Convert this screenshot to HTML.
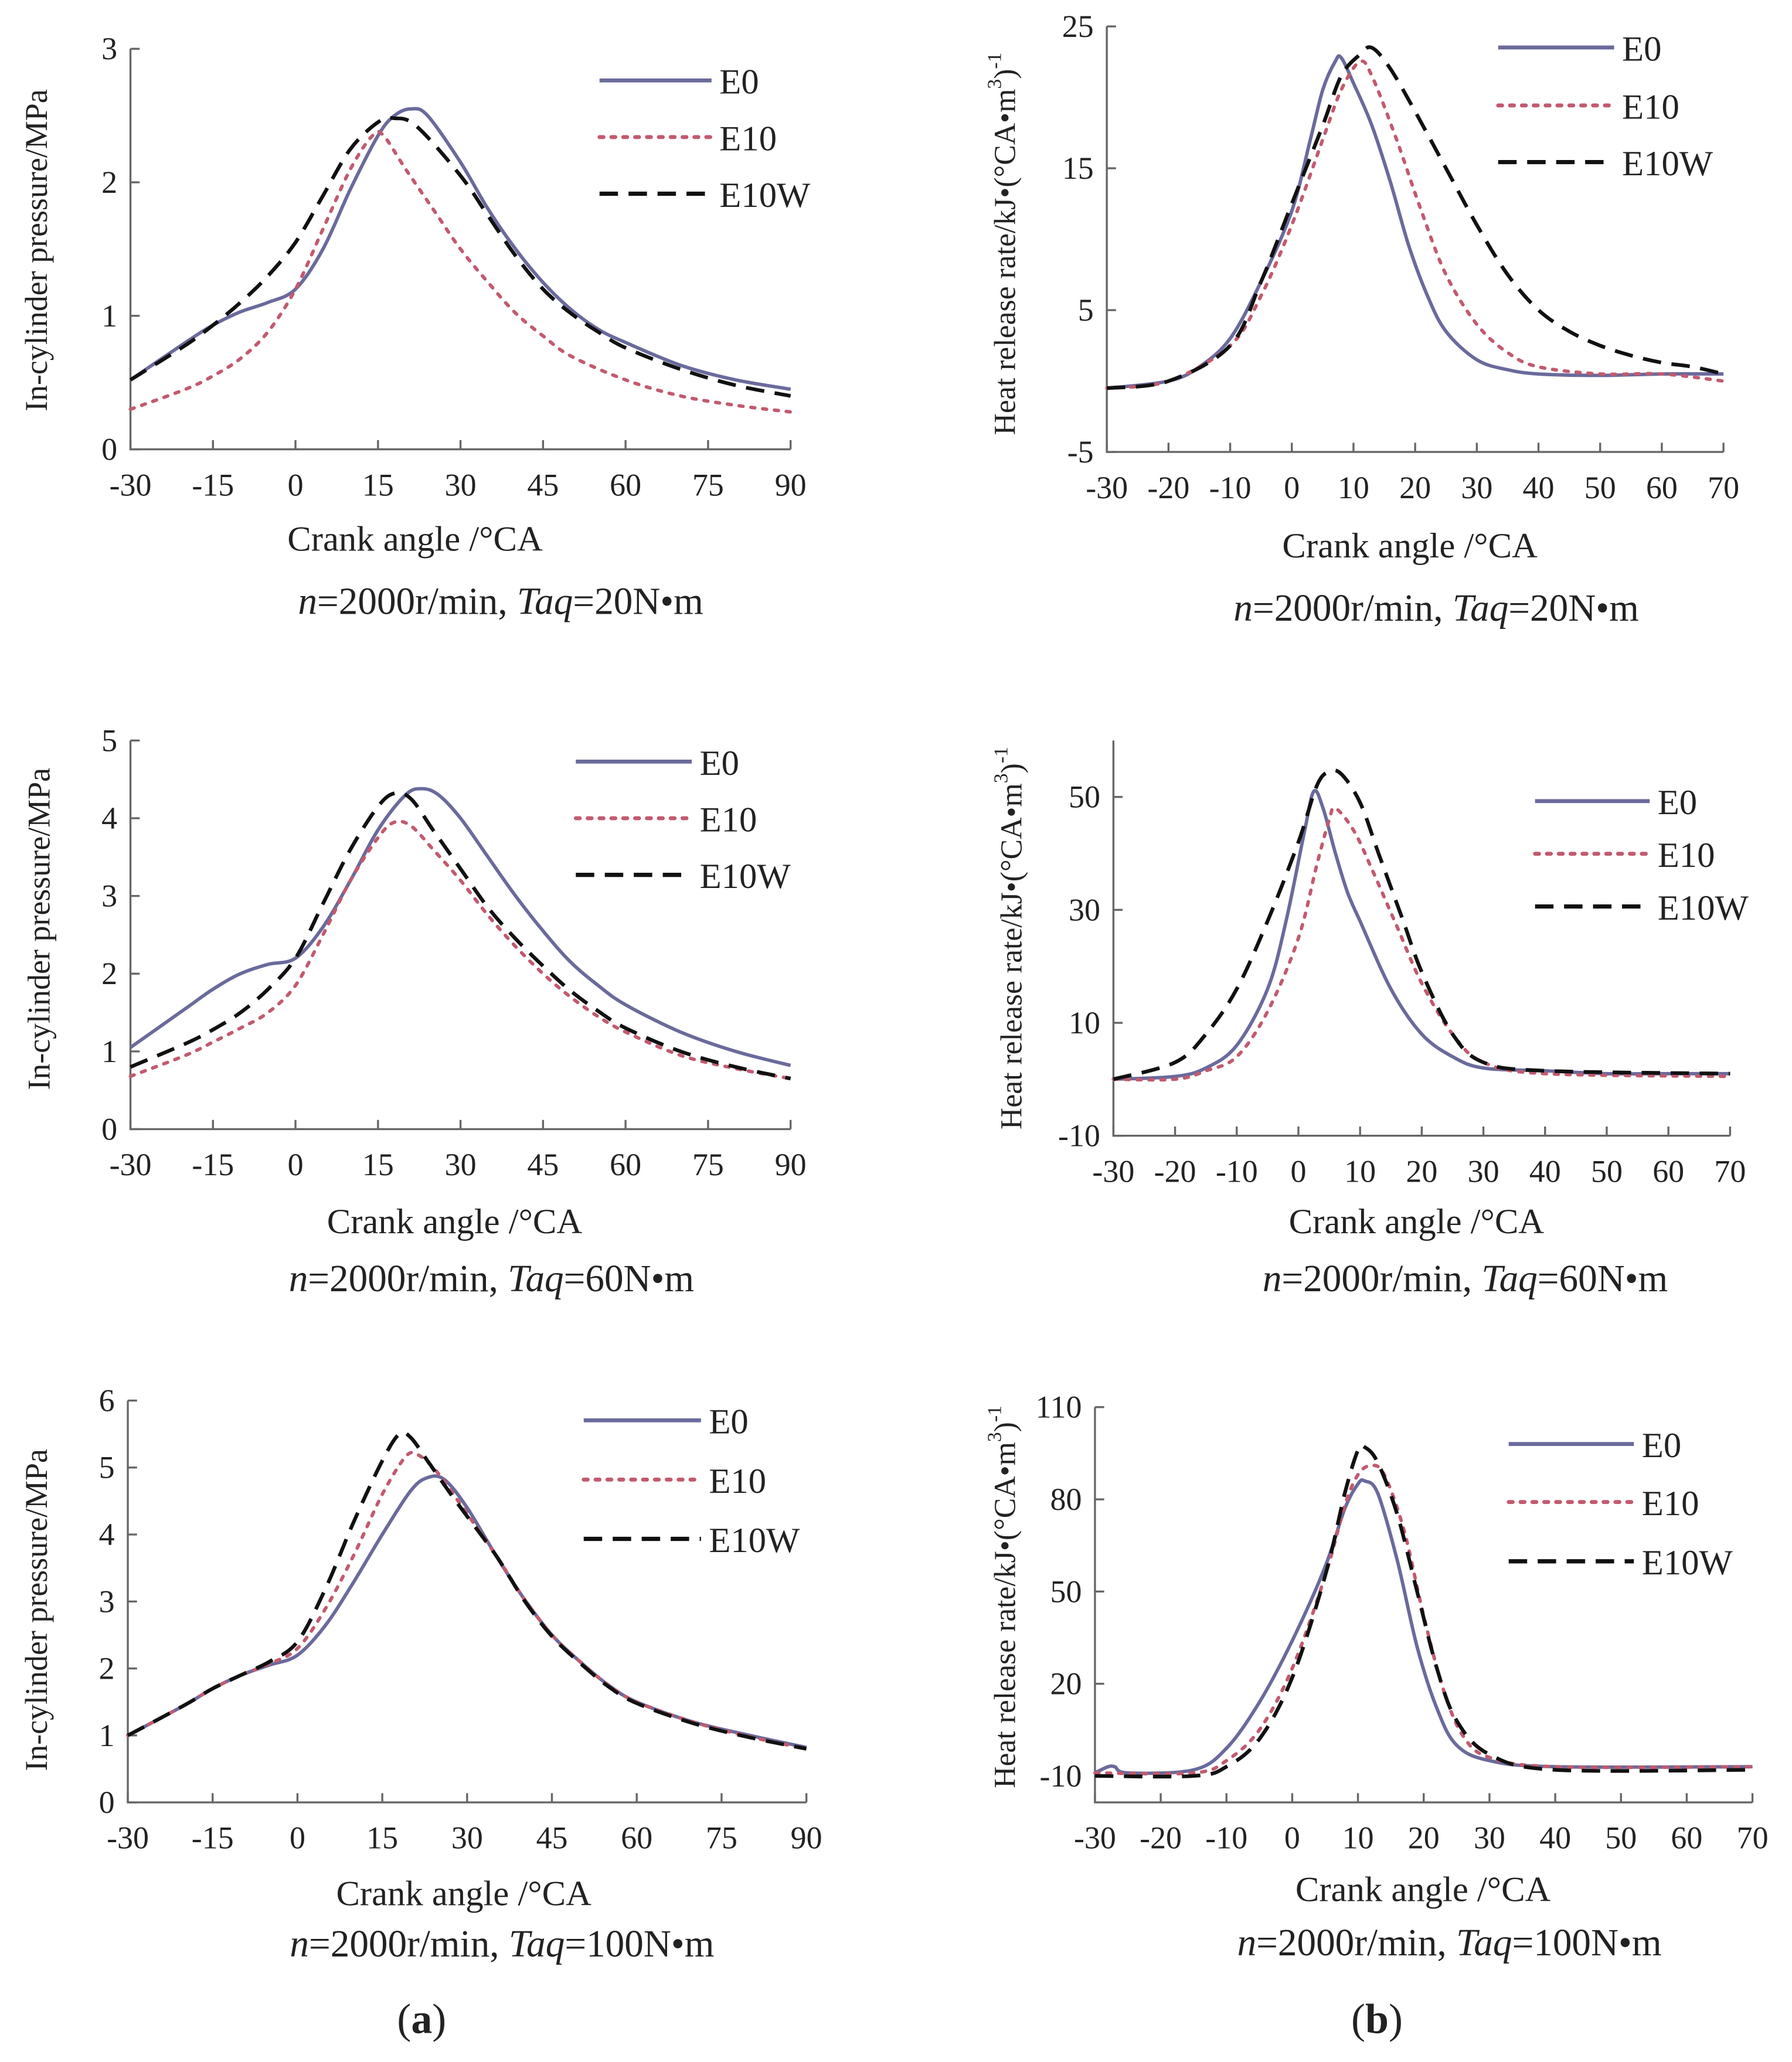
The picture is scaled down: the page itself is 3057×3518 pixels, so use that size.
<!DOCTYPE html>
<html><head><meta charset="utf-8"><style>
html,body{margin:0;padding:0;background:#fff}
svg{display:block}
text{font-family:"Liberation Serif",serif;fill:#222}
</style></head><body>
<svg id="fig" width="3057" height="3518" viewBox="0 0 1360 1565" xmlns="http://www.w3.org/2000/svg">
<rect width="1360" height="1565" fill="#fff"/>
<text x="320" y="1543" font-size="32" text-anchor="middle">(<tspan font-weight="bold">a</tspan>)</text>
<text x="1045" y="1543" font-size="32" text-anchor="middle">(<tspan font-weight="bold">b</tspan>)</text>
</svg>
<script>
// ---------- data ----------
const seriesNames = ["E0","E10","E10W"];
// A1 pressure 20 N·m
const a1E0x=[-30,-20,-15,-10,-5,0,5,10,15,18,21,24,30,35,40,45,50,55,60,70,80,90];
const a1E0y=[0.52,0.8,0.93,1.03,1.1,1.2,1.5,1.95,2.35,2.5,2.55,2.5,2.15,1.8,1.5,1.25,1.05,0.9,0.8,0.63,0.52,0.45];
const a1E10x=[-30,-20,-15,-10,-5,0,5,10,14,16,20,25,30,35,40,45,50,60,70,80,90];
const a1E10y=[0.3,0.45,0.55,0.68,0.88,1.2,1.65,2.1,2.35,2.35,2.1,1.8,1.5,1.25,1.02,0.85,0.7,0.52,0.4,0.33,0.28];
const a1E10Wx=[-30,-20,-15,-10,-5,0,5,10,15,18,22,30,35,40,45,50,55,60,70,80,90];
const a1E10Wy=[0.52,0.78,0.93,1.1,1.3,1.55,1.9,2.25,2.45,2.48,2.42,2.05,1.75,1.45,1.2,1.02,0.88,0.76,0.6,0.48,0.4];
// B1 heat release 20 N·m
const b1E0x=[-30,-20,-15,-10,-5,0,3,5,7,8,10,13,16,19,22,25,30,35,40,50,60,70];
const b1E0y=[-0.5,0,1,3,7,12,17,20.5,22.5,22.8,21,18,14,9.5,6,3.5,1.5,0.8,0.5,0.4,0.5,0.5];
const b1E10x=[-30,-20,-10,-5,0,5,8,11,13,17,21,25,30,35,40,50,60,70];
const b1E10y=[-0.5,0,2.5,6,11,17,20.5,22.5,21.5,17,12,7.5,4,2,1,0.5,0.5,0];
const b1E10Wx=[-30,-20,-10,-5,0,5,8,11,13,16,20,25,30,35,40,45,50,55,60,65,70];
const b1E10Wy=[-0.5,0,2.5,7,12.5,18,21.5,23,23.5,22,19,15,11,7.5,5,3.5,2.5,1.8,1.3,1,0.5];
// A2 pressure 60 N·m
const a2E0x=[-30,-20,-15,-10,-5,0,5,10,15,20,23,26,30,35,40,45,50,55,60,70,80,90];
const a2E0y=[1.05,1.55,1.8,2.0,2.12,2.2,2.6,3.2,3.85,4.3,4.38,4.3,4.0,3.5,3.0,2.55,2.15,1.85,1.6,1.25,1.0,0.82];
const a2E10x=[-30,-20,-15,-10,-5,0,5,10,15,18,21,25,30,35,40,45,50,55,60,70,80,90];
const a2E10y=[0.68,0.95,1.12,1.3,1.5,1.85,2.5,3.2,3.75,3.95,3.9,3.6,3.2,2.75,2.35,2.0,1.7,1.45,1.25,0.95,0.78,0.65];
const a2E10Wx=[-30,-20,-15,-10,-5,0,5,10,15,18,21,25,30,35,40,45,50,55,60,70,80,90];
const a2E10Wy=[0.8,1.1,1.28,1.5,1.8,2.2,2.9,3.6,4.15,4.32,4.25,3.85,3.35,2.85,2.45,2.1,1.78,1.52,1.3,1.0,0.8,0.65];
// B2 heat release 60 N·m
const b2E0x=[-30,-20,-15,-10,-5,-2,1,2.5,4,6,8,10,15,20,25,30,40,50,60,70];
const b2E0y=[0,0.5,2,6,16,28,44,51,48,40,33,28,16,8,4,2,1.5,1,1,1];
const b2E10x=[-30,-20,-15,-10,-5,0,3,5,6,9,12,16,20,25,30,40,70];
const b2E10y=[0,0,1.5,4,12,25,38,46,48,44,37,27,17,8,3,1,0.5];
const b2E10Wx=[-30,-20,-15,-10,-5,0,3,5,7,10,13,17,20,25,30,40,70];
const b2E10Wy=[0,3,8,16,28,42,52,54.5,54,49,40,28,19,8,3,1.5,1];
// A3 pressure 100 N·m
const a3E0x=[-30,-20,-15,-10,-5,0,5,10,15,20,23,26,30,35,40,45,50,55,60,70,80,90];
const a3E0y=[1,1.45,1.7,1.9,2.05,2.2,2.65,3.3,4.0,4.65,4.85,4.82,4.4,3.7,3.05,2.5,2.1,1.75,1.5,1.2,1.0,0.82];
const a3E10x=[-30,-20,-15,-10,-5,0,5,10,15,19,21,24,28,35,40,45,50,55,60,70,80,90];
const a3E10y=[1,1.45,1.7,1.9,2.07,2.3,2.9,3.7,4.6,5.15,5.2,5.0,4.55,3.7,3.05,2.5,2.1,1.75,1.5,1.2,0.98,0.8];
const a3E10Wx=[-30,-20,-15,-10,-5,0,5,10,15,18,20,23,28,35,40,45,50,55,60,70,80,90];
const a3E10Wy=[1,1.45,1.7,1.9,2.1,2.4,3.2,4.2,5.1,5.5,5.45,5.1,4.5,3.7,3.03,2.48,2.08,1.73,1.48,1.18,0.97,0.8];
// B3 heat release 100 N·m
const b3E0x=[-30,-28,-27,-25,-15,-10,-5,0,5,8,10,11,13,16,19,22,25,30,40,70];
const b3E0y=[-9,-7,-7,-9,-8,-1,14,34,58,77,85,86,82,60,32,12,0,-5,-7,-7];
const b3E10x=[-30,-15,-10,-5,0,5,8,10,12,14,17,20,23,26,30,40,70];
const b3E10y=[-9,-9,-5,5,25,55,78,88,91,88,70,42,18,3,-4,-7,-7];
const b3E10Wx=[-30,-15,-10,-5,0,5,8,10,11,13,16,19,22,25,30,40,70];
const b3E10Wy=[-10,-10,-7,2,22,55,82,96,97,92,75,50,25,8,-3,-8,-8];

const xTicksA=["-30","-15","0","15","30","45","60","75","90"];
const xTicksB=["-30","-20","-10","0","10","20","30","40","50","60","70"];
const yTicksA1=["0","1","2","3"], yTicksB1=["-5","5","15","25"];
const yTicksA2=["0","1","2","3","4","5"], yTicksB2=["-10","10","30","50"];
const yTicksA3=["0","1","2","3","4","5","6"], yTicksB3=["-10","20","50","80","110"];
const subA1="20", subA2="60", subA3="100";

// ---------- layout ----------
const panels=[
 {id:"a1",L:99,R:600,T:37,B:341,xmin:-30,xmax:90,ymin:0,ymax:3,xt:xTicksA,yt:yTicksA1,yl:"In-cylinder pressure/MPa",ylx:30,yly:190,xlx:315,xly:418,sx:380,sy:466,tq:subA1,lgx:455,lgy:[61,104,147],lgw:85,
  d:[[a1E0x,a1E0y],[a1E10x,a1E10y],[a1E10Wx,a1E10Wy]]},
 {id:"b1",L:840,R:1308,T:20,B:343,xmin:-30,xmax:70,ymin:-5,ymax:25,xt:xTicksB,yt:yTicksB1,yl:"hr",ylx:765,yly:185,xlx:1070,xly:423,sx:1090,sy:471,tq:subA1,lgx:1137,lgy:[36,80,123],lgw:88,
  d:[[b1E0x,b1E0y],[b1E10x,b1E10y],[b1E10Wx,b1E10Wy]]},
 {id:"a2",L:99,R:600,T:562,B:857,xmin:-30,xmax:90,ymin:0,ymax:5,xt:xTicksA,yt:yTicksA2,yl:"In-cylinder pressure/MPa",ylx:32,yly:705,xlx:345,xly:936,sx:373,sy:980,tq:subA2,lgx:437,lgy:[578,621,664],lgw:88,
  d:[[a2E0x,a2E0y],[a2E10x,a2E10y],[a2E10Wx,a2E10Wy]]},
 {id:"b2",L:845,R:1313,T:562,B:862,xmin:-30,xmax:70,ymin:-10,ymax:60,xt:xTicksB,yt:yTicksB2,yl:"hr",ylx:770,yly:712,xlx:1075,xly:936,sx:1112,sy:980,tq:subA2,lgx:1165,lgy:[608,648,688],lgw:87,
  d:[[b2E0x,b2E0y],[b2E10x,b2E10y],[b2E10Wx,b2E10Wy]]},
 {id:"a3",L:97,R:612,T:1063,B:1368,xmin:-30,xmax:90,ymin:0,ymax:6,xt:xTicksA,yt:yTicksA3,yl:"In-cylinder pressure/MPa",ylx:30,yly:1222,xlx:352,xly:1446,sx:381,sy:1485,tq:subA3,lgx:443,lgy:[1078,1123,1168],lgw:89,
  d:[[a3E0x,a3E0y],[a3E10x,a3E10y],[a3E10Wx,a3E10Wy]]},
 {id:"b3",L:831,R:1330,T:1068,B:1368,xmin:-30,xmax:70,ymin:-18.6,ymax:110,xt:xTicksB,yt:yTicksB3,yl:"hr",ylx:765,yly:1212,xlx:1080,xly:1443,sx:1100,sy:1484,tq:subA3,lgx:1145,lgy:[1096,1140,1185],lgw:95,
  d:[[b3E0x,b3E0y],[b3E10x,b3E10y],[b3E10Wx,b3E10Wy]]}
];
const styles=[{c:"#6a6a9c",w:2.6,da:""},{c:"#c25a6e",w:2.6,da:"3 6"},{c:"#111",w:2.8,da:"14 8"}];
const NS="http://www.w3.org/2000/svg";
const svg=document.getElementById("fig");
function mk(tag,attrs,parent){const e=document.createElementNS(NS,tag);for(const k in attrs)e.setAttribute(k,attrs[k]);(parent||svg).appendChild(e);return e;}
function smooth(pts){let d="M"+pts[0][0].toFixed(1)+","+pts[0][1].toFixed(1);
 for(let i=0;i<pts.length-1;i++){const p0=pts[Math.max(0,i-1)],p1=pts[i],p2=pts[i+1],p3=pts[Math.min(pts.length-1,i+2)];
  const c1=[p1[0]+(p2[0]-p0[0])/6,p1[1]+(p2[1]-p0[1])/6],c2=[p2[0]-(p3[0]-p1[0])/6,p2[1]-(p3[1]-p1[1])/6];
  d+=" C"+c1[0].toFixed(1)+","+c1[1].toFixed(1)+" "+c2[0].toFixed(1)+","+c2[1].toFixed(1)+" "+p2[0].toFixed(1)+","+p2[1].toFixed(1);}
 return d;}
panels.forEach(p=>{
 const g=mk("g",{});
 
 
 const xs=v=>p.L+(v-p.xmin)/(p.xmax-p.xmin)*(p.R-p.L);
 const ys=v=>p.B-(v-p.ymin)/(p.ymax-p.ymin)*(p.B-p.T);
 const ax=mk("path",{d:`M${p.L},${p.T} L${p.L},${p.B} L${p.R},${p.B}`,fill:"none",stroke:"#666","stroke-width":1.5},g);
 
 
 p.xt.forEach(t=>{const x=xs(+t);
  mk("line",{x1:x,x2:x,y1:p.B,y2:p.B-7,stroke:"#666","stroke-width":1.5},g);
  const tx=mk("text",{x:x,y:p.B+35,"font-size":24,"text-anchor":"middle"},g);tx.textContent=t;
  
  });
 p.yt.forEach(t=>{const y=ys(+t);
  mk("line",{x1:p.L,x2:p.L+7,y1:y,y2:y,stroke:"#666","stroke-width":1.5},g);
  const tx=mk("text",{x:p.L-10,y:y+8,"font-size":24,"text-anchor":"end"},g);tx.textContent=t;
  
  });
 const yl=mk("text",{x:p.ylx,y:p.yly,"font-size":p.yl=="hr"?23:24,"text-anchor":"middle",transform:`rotate(-90 ${p.ylx} ${p.yly})`,"dominant-baseline":"middle"},g);
 if(p.yl=="hr"){yl.innerHTML='Heat release rate/kJ•(°CA•m<tspan dy="-9" font-size="15">3</tspan><tspan dy="9">)</tspan><tspan dy="-9" font-size="15">-1</tspan>';}
 else yl.textContent=p.yl;
 
 
 const xl=mk("text",{x:p.xlx,y:p.xly,"font-size":27,"text-anchor":"middle"},g);xl.textContent="Crank angle /°CA";
 
 
 const st=mk("text",{x:p.sx,y:p.sy,"font-size":29,"text-anchor":"middle"},g);
 st.innerHTML='<tspan font-style="italic">n</tspan>=2000r/min, <tspan font-style="italic">Taq</tspan>='+p.tq+'N•m';
 
 
 p.d.forEach((s,i)=>{const pts=s[0].map((x,k)=>[xs(x),ys(s[1][k])]);
  const path=mk("path",{d:smooth(pts),fill:"none",stroke:styles[i].c,"stroke-width":styles[i].w,"stroke-dasharray":styles[i].da,"stroke-linecap":i==1?"round":"butt"},g);
  
  
  const ly=p.lgy[i];
  const ll=mk("line",{x1:p.lgx,x2:p.lgx+p.lgw,y1:ly,y2:ly,stroke:styles[i].c,"stroke-width":styles[i].w+0.4,"stroke-dasharray":styles[i].da,"stroke-linecap":i==1?"round":"butt"},g);
  
  
  const lt=mk("text",{x:p.lgx+p.lgw+6,y:ly+10,"font-size":27},g);lt.textContent=seriesNames[i];
  
  });
});
</script>
</body></html>
